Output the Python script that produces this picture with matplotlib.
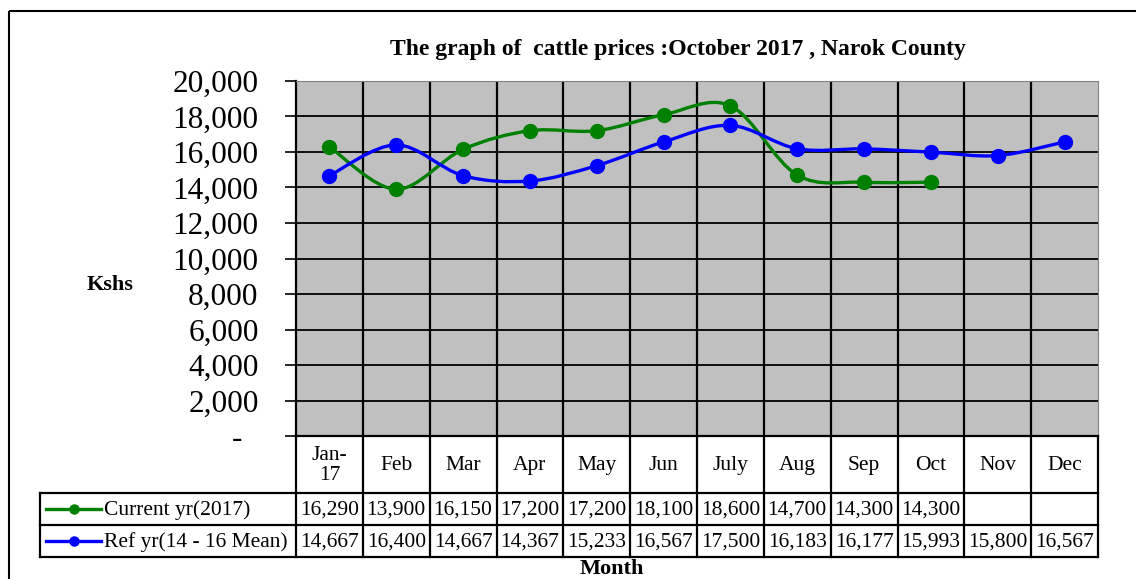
import numpy as np
import matplotlib as mpl
import matplotlib.pyplot as plt
from matplotlib.path import Path
from matplotlib.patches import PathPatch, Rectangle
from matplotlib.ticker import FuncFormatter, MultipleLocator

mpl.rc('font', family='Liberation Serif')

months = ['Jan-\n17', 'Feb', 'Mar', 'Apr', 'May', 'Jun', 'July', 'Aug', 'Sep', 'Oct', 'Nov', 'Dec']
current = [16290, 13900, 16150, 17200, 17200, 18100, 18600, 14700, 14300, 14300]
reference = [14667, 16400, 14667, 14367, 15233, 16567, 17500, 16183, 16177, 15993, 15800, 16567]
series_names = ['Current yr(2017)', 'Ref yr(14 - 16 Mean)']
colours = ['#008000', '#0000FF']

W, H = 1136, 579
fig = plt.figure(figsize=(W / 100, H / 100), dpi=100)

# overlay axes in pixel coordinates for border, table and labels
ov = fig.add_axes([0, 0, 1, 1])
ov.set_xlim(0, W)
ov.set_ylim(H, 0)
ov.axis('off')

# plot area in pixels
L, R, T, B = 296, 1098, 81, 436
ax = fig.add_axes([L / W, 1 - B / H, (R - L) / W, (B - T) / H])
ax.set_facecolor('#C0C0C0')
ax.set_xlim(-0.5, len(months) - 0.5)
ax.set_ylim(0, 20000)
ax.yaxis.set_major_locator(MultipleLocator(2000))
ax.yaxis.set_major_formatter(FuncFormatter(lambda v, p: '-  ' if v == 0 else f'{v:,.0f}'))
ax.tick_params(axis='y', labelsize=22.5, length=8, width=1.2, pad=19)
ax.set_xticks([])
ax.grid(axis='y', color='black', linewidth=1.3)
for i in range(len(months) - 1):
    ax.axvline(i + 0.5, color='black', linewidth=1.6)
ax.set_axisbelow(True)
for s in ['top', 'right']:
    ax.spines[s].set_color('#808080')
for s in ['left', 'bottom']:
    ax.spines[s].set_color('black')
    ax.spines[s].set_linewidth(1.6)


def smooth_path(xs, ys):
    pts = np.column_stack([xs, ys]).astype(float)
    n = len(pts)
    verts = [pts[0]]
    codes = [Path.MOVETO]
    for i in range(n - 1):
        p0 = pts[max(i - 1, 0)]
        p1 = pts[i]
        p2 = pts[i + 1]
        p3 = pts[min(i + 2, n - 1)]
        verts += [p1 + (p2 - p0) / 6, p2 - (p3 - p1) / 6, p2]
        codes += [Path.CURVE4] * 3
    return Path(verts, codes)


for vals, c in zip([current, reference], colours):
    x = np.arange(len(vals))
    ax.add_patch(PathPatch(smooth_path(x, vals), facecolor='none', edgecolor=c, linewidth=2.4, zorder=3))
    ax.plot(x, vals, 'o', color=c, markersize=10, zorder=4)

# data table
col_w = (R - L) / len(months)
rows = [B, 493, 525, 557]
TL = 40
lw = 1.6
fs = 15.5
ov.plot([L, R], [rows[1], rows[1]], color='black', lw=lw)
ov.plot([TL, L], [rows[1], rows[1]], color='black', lw=lw)
for y in rows[2:]:
    ov.plot([TL, R], [y, y], color='black', lw=lw)
ov.plot([TL, TL], [rows[1], rows[3]], color='black', lw=lw)
for i in range(len(months) + 1):
    xx = L + i * col_w
    ov.plot([xx, xx], [B, rows[3]], color='black', lw=lw)

for i, m in enumerate(months):
    cx = L + (i + 0.5) * col_w
    ov.text(cx, (rows[0] + rows[1]) / 2 + 1, m, ha='center', va='center', fontsize=fs, linespacing=1.05)

for r, (vals, name, c) in enumerate(zip([current, reference], series_names, colours)):
    cy = (rows[r + 1] + rows[r + 2]) / 2
    for i, v in enumerate(vals):
        cx = L + (i + 0.5) * col_w
        ov.text(cx, cy + 1, f'{v:,}', ha='center', va='center', fontsize=fs)
    ov.plot([46, 101], [cy, cy], color=c, lw=2.4)
    ov.plot([74], [cy], 'o', color=c, markersize=6.5)
    ov.text(104, cy + 1, name, ha='left', va='center', fontsize=fs)

# titles and labels
ov.text(678, 49, 'The graph of  cattle prices :October 2017 , Narok County', ha='center', va='center',
        fontsize=17, fontweight='bold')
ov.text(110, 285, 'Kshs', ha='center', va='center', fontsize=16, fontweight='bold')
ov.text(612, 569, 'Month', ha='center', va='center', fontsize=16, fontweight='bold')

# chart border
ov.add_patch(Rectangle((9, 11), W, H, fill=False, edgecolor='black', linewidth=1.5))

fig.savefig('out.png', dpi=100)
